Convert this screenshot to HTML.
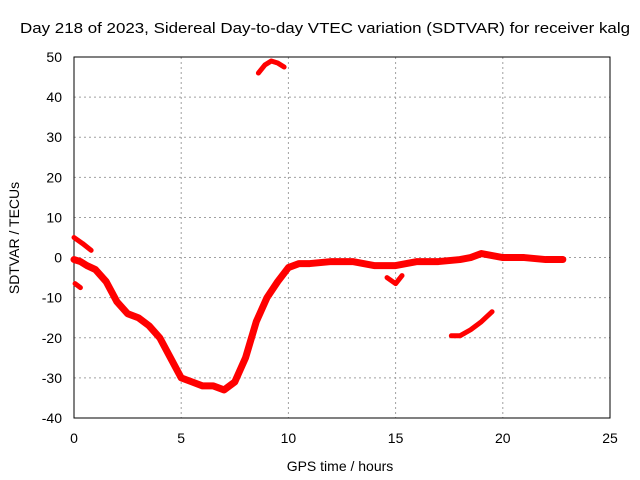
<!DOCTYPE html>
<html><head><meta charset="utf-8"><style>
body{margin:0;background:#fff}
svg{display:block;font-family:"Liberation Sans",sans-serif;font-size:14px}
</style></head><body>
<svg id="chart" width="640" height="480"></svg>
<script>
const xTicks=[0,5,10,15,20,25];
const yTicks=[-40,-30,-20,-10,0,10,20,30,40,50];
const mainHours=[0,0.3,0.6,1,1.5,2,2.5,3,3.5,4,4.5,5,5.5,6,6.5,7,7.5,8,8.5,9,9.5,10,10.5,11,12,13,14,15,15.5,16,17,18,18.5,19,20,21,22,22.8];
const mainValues=[-0.5,-1,-2,-3,-6,-11,-14,-15,-17,-20,-25,-30,-31,-32,-32,-33,-31,-25,-16,-10,-6,-2.5,-1.5,-1.5,-1,-1,-2,-2,-1.5,-1,-1,-0.5,0,1,0,0,-0.5,-0.5];
const seg2Hours=[0,0.4,0.8];
const seg2Values=[5,3.5,1.8];
const seg3Hours=[0.05,0.3];
const seg3Values=[-6.5,-7.5];
const seg4Hours=[8.6,8.9,9.2,9.5,9.8];
const seg4Values=[46,48,49,48.5,47.5];
const seg5Hours=[17.6,18,18.5,19,19.5];
const seg5Values=[-19.5,-19.5,-18,-16,-13.5];
const seg6Hours=[14.6,15,15.3];
const seg6Values=[-5,-6.5,-4.5];
const L=74,R=610,T=57,B=418;
const sx=v=>L+(v-0)/(25-0)*(R-L);
const sy=v=>B-(v+40)/90*(B-T);
const svg=document.getElementById('chart');
const NS='http://www.w3.org/2000/svg';
function mk(t,a,txt){const e=document.createElementNS(NS,t);for(const k in a)e.setAttribute(k,a[k]);if(txt!==undefined)e.textContent=txt;svg.appendChild(e);return e;}
xTicks.forEach(v=>{
 if(v>0&&v<25){const g=mk('line',{x1:sx(v),x2:sx(v),y1:T,y2:B,stroke:'#a0a0a0','stroke-dasharray':'2,3'});
 
 }
 const t=mk('text',{x:sx(v),y:443,'text-anchor':'middle'},v);
 
 
});
yTicks.forEach(v=>{
 if(v>-40&&v<50){const g=mk('line',{x1:L,x2:R,y1:sy(v),y2:sy(v),stroke:'#a0a0a0','stroke-dasharray':'2,3'});
 
 }
 const t=mk('text',{x:L-12,y:sy(v)+5,'text-anchor':'end'},v);
 
 
});
const fr=mk('rect',{x:L,y:T,width:R-L,height:B-T,fill:'none',stroke:'#000'});


[[mainHours,mainValues],[seg2Hours,seg2Values],[seg3Hours,seg3Values],[seg4Hours,seg4Values],[seg5Hours,seg5Values],[seg6Hours,seg6Values]].forEach((s,i)=>{
 const p=s[0].map((h,j)=>sx(h)+','+sy(s[1][j])).join(' ');
 const l=mk('polyline',{points:p,fill:'none',stroke:'#ff0000','stroke-width':i==0?7:5,'stroke-linejoin':'round','stroke-linecap':'round'});
 
 
});
const ti=mk('text',{x:325,y:33,'text-anchor':'middle','font-size':'14.5',textLength:'610',lengthAdjust:'spacingAndGlyphs'},'Day 218 of 2023, Sidereal Day-to-day VTEC variation (SDTVAR) for receiver kalg');


const xt=mk('text',{x:340,y:471,'text-anchor':'middle'},'GPS time / hours');


const yt=mk('text',{x:0,y:0,'text-anchor':'middle',transform:'translate(19,238) rotate(-90)'},'SDTVAR / TECUs');


</script>
</body></html>
